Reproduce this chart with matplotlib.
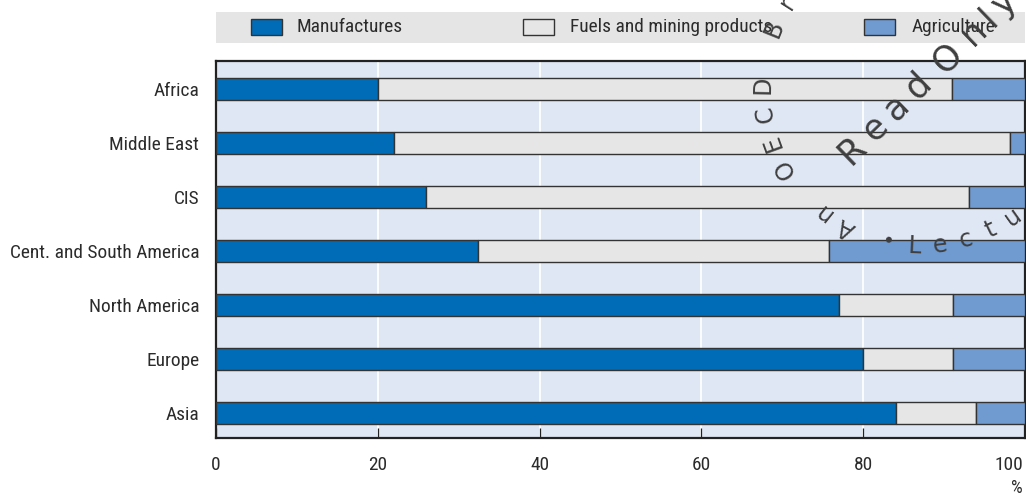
import numpy as np
import matplotlib
matplotlib.use("Agg")
import matplotlib.pyplot as plt
import matplotlib.transforms as mtrans
from matplotlib.patches import Rectangle
from matplotlib import font_manager as fm

# ---------------- data ----------------
regions = ["Africa", "Middle East", "CIS", "Cent. and South America",
           "North America", "Europe", "Asia"]
manufactures = [20.0, 22.0, 26.0, 32.4, 77.0, 80.0, 84.0]
fuels_mining = [71.0, 76.1, 67.1, 43.4, 14.1, 11.1, 10.0]
agriculture = [9.0, 1.9, 6.9, 24.2, 8.9, 8.9, 6.0]
series_names = ["Manufactures", "Fuels and mining products", "Agriculture"]
x_ticks = [0, 20, 40, 60, 80, 100]
x_unit = "%"

# ---------------- font choice (prefer a condensed sans) ----------------
entries = fm.fontManager.ttflist
names = {f.name for f in entries}
family, stretch = None, "normal"
for cand in ["Liberation Sans Narrow", "Roboto Condensed", "Open Sans Condensed",
             "Arial Narrow", "Noto Sans Condensed", "DejaVu Sans Condensed"]:
    if cand in names:
        family = cand
        break
if family is None:
    for f in entries:
        st = str(f.stretch).lower()
        if "condensed" in st and "semi" not in st:
            family, stretch = f.name, "condensed"
            break
if family is None:
    for f in entries:
        if "Narrow" in f.name or "Condensed" in f.name:
            family = f.name
            break
if family is None:
    family = "Liberation Sans" if "Liberation Sans" in names else "DejaVu Sans"
plt.rcParams["font.family"] = [family, "DejaVu Sans"]
plt.rcParams["font.stretch"] = stretch

TXT = "#2b2b2b"
C_MAN = "#006bb6"
C_FUEL = "#e6e6e6"
C_AGR = "#6f9bd1"
C_BG = "#dfe6f4"
EDGE = "#333333"

W, H = 1026, 497
fig = plt.figure(figsize=(W / 100, H / 100), dpi=100)

ax_l, ax_r, ax_t, ax_b = 216, 1025, 61, 438
ax = fig.add_axes([ax_l / W, 1 - ax_b / H, (ax_r - ax_l) / W, (ax_b - ax_t) / H])
ax.set_facecolor(C_BG)

y = np.arange(len(regions))
bh = 0.41
left = np.zeros(len(regions))
for vals, col in zip([manufactures, fuels_mining, agriculture], [C_MAN, C_FUEL, C_AGR]):
    ax.barh(y, vals, left=left, height=bh, color=col, edgecolor=EDGE,
            linewidth=1.0, zorder=3)
    left = left + np.array(vals)

ax.set_xlim(0, 100)
ax.set_ylim(6.463, -0.519)
ax.set_xticks(x_ticks)
ax.set_xticklabels([str(t) for t in x_ticks])
ax.set_yticks(y)
ax.set_yticklabels(regions)
ax.xaxis.grid(True, color="white", linewidth=1.3, zorder=1)
ax.set_axisbelow(True)
base = 14
ax.tick_params(axis="x", direction="in", length=7, width=0.9, color="#222222",
               pad=13, labelsize=base, labelcolor=TXT)
ax.tick_params(axis="y", length=0, pad=12, labelsize=base, labelcolor=TXT)
for s in ax.spines.values():
    s.set_color("#222222")
    s.set_linewidth(1.6)

unit_txt = fig.text(1017 / W, 1 - 488 / H, x_unit, ha="center", va="center",
                    fontsize=13, color=TXT)

# ---------------- legend band ----------------
band_top, band_bot = 12, 43
fig.patches.append(Rectangle((ax_l / W, 1 - band_bot / H), (ax_r - ax_l) / W,
                             (band_bot - band_top) / H, transform=fig.transFigure,
                             facecolor="#e5e5e5", edgecolor="none", zorder=0))
legend_items = [(251, 297, C_MAN), (523, 570, C_FUEL), (864, 912, C_AGR)]
leg_texts = []
for (px, tx, col), name in zip(legend_items, series_names):
    fig.patches.append(Rectangle((px / W, 1 - 35 / H), 31 / W, 16 / H,
                                 transform=fig.transFigure, facecolor=col,
                                 edgecolor=EDGE, linewidth=1.0, zorder=2))
    leg_texts.append(fig.text(tx / W, 1 - 27.5 / H, name, ha="left", va="center",
                              fontsize=base, color=TXT))

# fit text size so the longest category label spans ~190 px as in the reference
renderer = fig.canvas.get_renderer()
lab = [t for t in ax.get_yticklabels() if t.get_text() == "Cent. and South America"][0]
wpx = lab.get_window_extent(renderer).width
scale = min(1.0, 190.0 / wpx) if wpx > 0 else 1.0
fs = base * scale
ax.tick_params(axis="both", labelsize=fs)
for t in leg_texts:
    t.set_fontsize(fs)
unit_txt.set_fontsize(fs * 0.95)
# last tick label sits just inside the right edge, as in the reference
xl = ax.get_xticklabels()
xl[-1].set_horizontalalignment("right")
xl[-1].set_transform(xl[-1].get_transform() +
                     mtrans.ScaledTranslation(-2 / 100, 0, fig.dpi_scale_trans))

# ---------------- watermark stamp ----------------
ov = fig.add_axes([0, 0, 1, 1], zorder=20)
ov.set_xlim(0, W)
ov.set_ylim(H, 0)
ov.axis("off")
ov.patch.set_alpha(0)
WM = "#3f3f3f"
cx, cy, r = 921, 88, 158

top_text = "An OECD Br"
a0, step = 242.0, 10.5
for i, ch in enumerate(top_text):
    if ch == " ":
        continue
    a = np.deg2rad(a0 - i * step)
    ov.text(cx + r * np.cos(a), cy - r * np.sin(a), ch, rotation=a0 - i * step - 90,
            rotation_mode="anchor", ha="center", va="center", fontsize=17,
            color=WM, family="DejaVu Sans")

bot_text = "\u2022Lectu"
b0, bstep = 258.0, 9.5
for i, ch in enumerate(bot_text):
    a = np.deg2rad(b0 + i * bstep)
    ov.text(cx + r * np.cos(a), cy - r * np.sin(a), ch, rotation=b0 + i * bstep + 90,
            rotation_mode="anchor", ha="center", va="center",
            fontsize=17 if ch != "\u2022" else 15, color=WM, family="DejaVu Sans")

ro_chars = "ReadOnly"
ro_offsets = [0, 32, 62, 92, 133, 170, 191, 212]
rx, ry, rang = 852, 150, 44.0
for ch, off in zip(ro_chars, ro_offsets):
    ov.text(rx + off * np.cos(np.deg2rad(rang)), ry - off * np.sin(np.deg2rad(rang)),
            ch, rotation=rang, rotation_mode="anchor", ha="center", va="center",
            fontsize=25, color=WM, family="DejaVu Sans")

fig.savefig("out.png", dpi=100)
